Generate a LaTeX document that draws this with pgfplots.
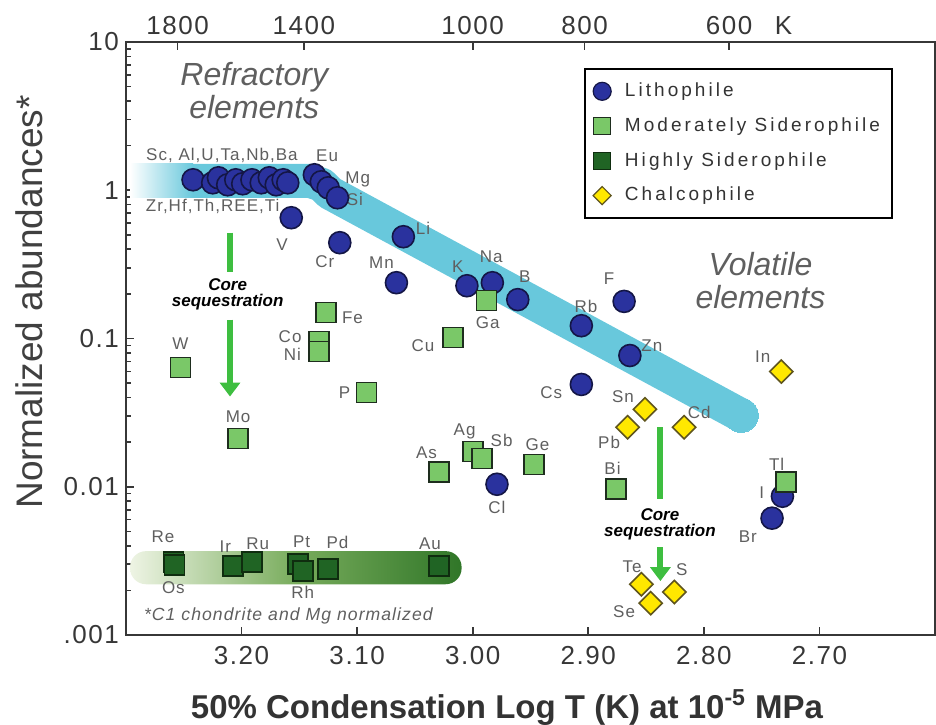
\documentclass[border=0pt]{standalone}
\usepackage{fontspec}
\setmainfont{Liberation Sans}[LetterSpace=6]
\newfontfamily\tightfont{Liberation Sans}
\newfontfamily\legfont{Liberation Sans}[LetterSpace=16]
\usepackage{pgfplots}
\pgfplotsset{compat=1.18}
\usetikzlibrary{arrows.meta}

\definecolor{litho}{RGB}{42,50,158}
\definecolor{lithod}{RGB}{20,22,70}
\definecolor{modsid}{RGB}{122,200,104}
\definecolor{modsidd}{RGB}{30,45,30}
\definecolor{hisid}{RGB}{32,100,36}
\definecolor{hisidd}{RGB}{15,45,15}
\definecolor{chalco}{RGB}{255,232,0}
\definecolor{chalcod}{RGB}{95,85,30}
\definecolor{band}{RGB}{104,200,220}
\definecolor{arrowgreen}{RGB}{62,190,64}
\definecolor{labgray}{RGB}{95,95,95}
\definecolor{axisgray}{RGB}{55,55,55}
\definecolor{hsleft}{RGB}{238,244,228}
\definecolor{hsmid}{RGB}{120,172,92}
\definecolor{hsright}{RGB}{48,118,40}

\newcommand{\lab}[3]{\node[font=\fontsize{8.5}{9}\selectfont, text=labgray, inner sep=0pt] at (axis cs:#1,#2) {#3};}

\begin{document}
\begin{tikzpicture}
\begin{axis}[
    scale only axis, width=404.5pt, height=296.5pt,
    xmin=2.60, xmax=3.30, x dir=reverse,
    ymode=log, ymin=0.001, ymax=10,
    xtick={2.7,2.8,2.9,3.0,3.1,3.2},
    xticklabels={2.70,2.80,2.90,3.00,3.10,3.20},
    ytick={0.001,0.01,0.1,1,10},
    yticklabels={.001,0.01,0.1,1,10},
    minor ytick={0.002,0.003,0.004,0.005,0.006,0.007,0.008,0.009,
                 0.02,0.03,0.04,0.05,0.06,0.07,0.08,0.09,
                 0.2,0.3,0.4,0.5,0.6,0.7,0.8,0.9,
                 2,3,4,5,6,7,8,9},
    xtick pos=bottom, ytick pos=left,
    tick align=inside,
    major tick length=4pt, minor tick length=2.5pt,
    axis line style={line width=1.3pt, draw=axisgray},
    every tick/.style={line width=0.8pt, draw=axisgray},
    tick label style={font=\fontsize{13}{13}\selectfont, text=axisgray},
    xticklabel style={yshift=-2pt},
    /pgf/number format/assume math mode=true,
    xlabel={\tightfont\bfseries 50\% Condensation Log T (K) at 10\textsuperscript{-5} MPa},
    xlabel style={at={(axis description cs:0.471,-0.140)}, anchor=base,
                  font=\fontsize{16.5}{17}\selectfont, text=black!80},
    ylabel={\tightfont Normalized abundances*},
    ylabel style={at={(axis description cs:-0.1038,0.5616)}, anchor=base,
                  font=\fontsize{18.5}{19}\selectfont, text=black!75},
    legend image code/.code={\draw[#1] plot coordinates {(0pt,0pt)}; \path (9pt,0pt);},
    legend style={at={(0.948,0.956)}, anchor=north east, draw=black,
                  line width=0.8pt, fill=white, text=black!80,
                  font=\legfont\fontsize{9.5}{9.5}\selectfont,
                  row sep=5pt, inner xsep=4pt, inner ysep=5pt},
    legend cell align=left,
]
% ---- bands
\shade[left color=white, right color=band]
  (axis cs:3.2965,0.890) rectangle (axis cs:3.242,1.507);
\addplot[draw=band, line width=17pt, line join=round, forget plot] coordinates {
  (3.242,1.159) (3.141,1.159) (3.1306,1.089) (3.1237,0.962) (2.7676,0.0303)
};
\addplot[only marks, mark=*, mark size=8.5pt, mark options={fill=band, draw=band, line width=0pt}, forget plot]
  coordinates {(2.7676,0.0303)};
\shade[left color=hsleft, right color=hsright, middle color=hsmid, rounded corners=8pt]
  (axis cs:3.2965,0.0022) rectangle (axis cs:3.0096,0.00368);

% ---- core sequestration arrows
\addplot[draw=arrowgreen, line width=3pt, forget plot] coordinates {(3.210,0.517) (3.210,0.2826)};
\addplot[draw=arrowgreen, line width=3pt, -{Triangle[width=10pt,length=7pt]}, forget plot]
  coordinates {(3.210,0.1343) (3.210,0.0406)};
\addplot[draw=arrowgreen, line width=3pt, forget plot] coordinates {(2.8376,0.0252) (2.8376,0.00824)};
\addplot[draw=arrowgreen, line width=3pt, -{Triangle[width=10pt,length=7pt]}, forget plot]
  coordinates {(2.8376,0.00392) (2.8376,0.00231)};

% ---- lithophile
\addplot[only marks, mark=*, mark size=5.5pt,
  mark options={fill=litho, draw=lithod, line width=0.8pt}, forget plot] coordinates {
  (3.242,1.177) (3.225,1.123) (3.220,1.214) (3.212,1.089) (3.205,1.177)
  (3.199,1.106) (3.191,1.177) (3.183,1.123) (3.176,1.214) (3.170,1.089)
  (3.164,1.177) (3.160,1.123)
  (3.137,1.272) (3.131,1.141) (3.125,1.039) (3.117,0.890)
  (3.157,0.653) (3.115,0.443) (3.060,0.486) (3.066,0.238)
  (3.005,0.227) (2.983,0.238) (2.961,0.183) (2.906,0.122)
  (2.869,0.178) (2.864,0.0768) (2.906,0.049) (2.979,0.0104)
  (2.732,0.00863) (2.741,0.00614)
};
% ---- moderately siderophile
\addplot[only marks, mark=square*, mark size=5pt,
  mark options={fill=modsid, draw=modsidd, line width=0.8pt}, forget plot] coordinates {
  (3.253,0.0638) (3.203,0.0212) (3.127,0.150) (3.133,0.0954) (3.133,0.0818)
  (3.092,0.0433) (3.017,0.1016) (2.988,0.180) (3.029,0.01252) (3.000,0.01734)
  (2.992,0.01556) (2.947,0.01417) (2.876,0.00962) (2.729,0.01072)
};
% ---- highly siderophile
\addplot[only marks, mark=square*, mark size=5pt,
  mark options={fill=hisid, draw=hisidd, line width=0.8pt}, forget plot] coordinates {
  (3.259,0.0031) (3.258,0.00296) (3.2075,0.00291) (3.191,0.0031)
  (3.151,0.00301) (3.147,0.0027) (3.125,0.00278) (3.029,0.00291)
};
% ---- chalcophile
\addplot[only marks, mark=square*, mark size=4.1pt,
  mark options={fill=chalco, draw=chalcod, line width=0.8pt, rotate=45}, forget plot] coordinates {
  (2.733,0.0599) (2.851,0.0333) (2.866,0.0252) (2.817,0.0252)
  (2.854,0.0022) (2.8255,0.00195) (2.846,0.00164)
};

\addlegendimage{only marks, mark=*, mark size=4.5pt, mark options={fill=litho, draw=lithod, line width=0.6pt}}
\addlegendimage{only marks, mark=square*, mark size=4.3pt, mark options={fill=modsid, draw=modsidd, line width=0.6pt}}
\addlegendimage{only marks, mark=square*, mark size=4.3pt, mark options={fill=hisid, draw=hisidd, line width=0.6pt}}
\addlegendimage{only marks, mark=square*, mark size=3.2pt, mark options={fill=chalco, draw=chalcod, line width=0.6pt, rotate=45}}
\legend{Lithophile, Moderately Siderophile, Highly Siderophile, Chalcophile}

% ---- element labels
\lab{3.217}{1.73}{Sc, Al,U,Ta,Nb,Ba}
\lab{3.225}{0.774}{Zr,Hf,Th,REE,Ti}
\lab{3.126}{1.71}{Eu}
\lab{3.0995}{1.177}{Mg}
\lab{3.102}{0.863}{Si}
\lab{3.165}{0.430}{V}
\lab{3.128}{0.330}{Cr}
\lab{3.043}{0.551}{Li}
\lab{3.079}{0.325}{Mn}
\lab{3.013}{0.305}{K}
\lab{2.984}{0.356}{Na}
\lab{2.955}{0.262}{B}
\lab{2.902}{0.164}{Rb}
\lab{2.882}{0.253}{F}
\lab{2.845}{0.0898}{Zn}
\lab{2.932}{0.0433}{Cs}
\lab{2.979}{0.00728}{Cl}
\lab{2.750}{0.00918}{I}
\lab{2.762}{0.00464}{Br}
\lab{3.253}{0.0925}{W}
\lab{3.203}{0.0299}{Mo}
\lab{3.104}{0.1383}{Fe}
\lab{3.158}{0.103}{Co}
\lab{3.156}{0.078}{Ni}
\lab{3.111}{0.0433}{P}
\lab{3.043}{0.0898}{Cu}
\lab{2.987}{0.128}{Ga}
\lab{3.040}{0.01706}{As}
\lab{3.007}{0.02366}{Ag}
\lab{2.975}{0.02056}{Sb}
\lab{2.944}{0.0193}{Ge}
\lab{2.879}{0.01334}{Bi}
\lab{2.737}{0.01419}{Tl}
\lab{3.268}{0.00457}{Re}
\lab{3.259}{0.0021}{Os}
\lab{3.214}{0.00397}{Ir}
\lab{3.186}{0.0041}{Ru}
\lab{3.148}{0.00423}{Pt}
\lab{3.147}{0.00195}{Rh}
\lab{3.117}{0.00423}{Pd}
\lab{3.037}{0.0041}{Au}
\lab{2.749}{0.0757}{In}
\lab{2.870}{0.0407}{Sn}
\lab{2.882}{0.01995}{Pb}
\lab{2.804}{0.0318}{Cd}
\lab{2.862}{0.00287}{Te}
\lab{2.819}{0.00274}{S}
\lab{2.869}{0.00143}{Se}

% ---- annotations
\node[font=\tightfont\itshape\fontsize{16}{16.5}\selectfont, text=labgray, align=center]
  at (axis cs:3.189,4.68) {Refractory\\elements};
\node[font=\tightfont\itshape\fontsize{16}{16.5}\selectfont, text=labgray, align=center]
  at (axis cs:2.751,0.246) {Volatile\\elements};
\node[font=\tightfont\bfseries\itshape\fontsize{8.5}{8}\selectfont, align=center, fill=white, inner sep=1pt]
  at (axis cs:3.212,0.1977) {Core\\sequestration};
\node[font=\tightfont\bfseries\itshape\fontsize{8.5}{8}\selectfont, align=center, fill=white, inner sep=1pt]
  at (axis cs:2.838,0.00558) {Core\\sequestration};
\node[anchor=west, font=\itshape\fontsize{8.8}{9}\selectfont, text=labgray]
  at (axis cs:3.2905,0.00134) {*C1 chondrite and Mg normalized};
\end{axis}

% top temperature axis
\begin{axis}[
    scale only axis, width=404.5pt, height=296.5pt,
    xmin=2.60, xmax=3.30, x dir=reverse, ymin=0, ymax=1,
    axis x line*=top, axis y line=none,
    xtick={3.2553,3.1461,3.0,2.9031,2.7782},
    xticklabels={1800,1400,1000,800,600},
    extra x ticks={2.731}, extra x tick labels={K},
    extra x tick style={major tick length=0pt},
    tick align=inside, major tick length=4pt,
    axis line style={line width=1.3pt, draw=axisgray},
    every tick/.style={line width=0.8pt, draw=axisgray},
    tick label style={font=\fontsize{13}{13}\selectfont, text=axisgray},
    /pgf/number format/assume math mode=true,
]
\end{axis}

\pgfresetboundingbox
\path[use as bounding box] ([xshift=-63pt,yshift=-44.5pt]current axis.south west)
  rectangle ([xshift=0.5pt,yshift=21pt]current axis.north east);
\end{tikzpicture}
\end{document}
